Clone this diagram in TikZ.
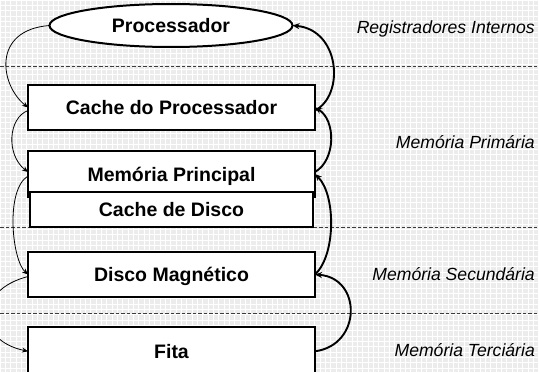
\documentclass[tikz,border=0pt]{standalone}
\usepackage{fontspec}
\setmainfont{Liberation Sans}
\usetikzlibrary{shapes.geometric,arrows.meta}
\definecolor{bggray}{RGB}{236,236,236}
\definecolor{dashgray}{RGB}{60,60,60}
\tikzset{
  gridline/.style={white,line width=0.8pt},
  level/.style={dashgray,line width=0.9pt,dash pattern=on 3.5pt off 2pt},
  box/.style={draw=black,fill=white,line width=2pt,rectangle,inner sep=0pt,outer sep=0pt,
    font=\fontsize{19.5}{22}\selectfont\bfseries,text height=14pt,text depth=0pt},
  oval/.style={draw=black,fill=white,line width=2pt,ellipse,inner sep=0pt,outer sep=0pt,
    minimum width=243pt,minimum height=43pt,
    font=\fontsize{19.5}{22}\selectfont\bfseries,text height=14pt,text depth=0pt},
  tag/.style={anchor=base east,inner sep=0pt,font=\fontsize{17.6}{20}\selectfont\itshape},
  down/.style={line width=0.8pt,-{Stealth[length=6pt,width=5pt]}},
  up/.style={line width=1.9pt,-{Stealth[length=7pt,width=6pt]}}
}
\begin{document}
\begin{tikzpicture}[x=1pt,y=-1pt]
\clip (0,0) rectangle (539,372);
\fill[bggray] (0,0) rectangle (539,372);
\foreach \i in {0,...,101} \draw[gridline] ({\i*16/3},0) -- ({\i*16/3},372);
\foreach \j in {0,...,70} \draw[gridline] (0,{\j*16/3}) -- (539,{\j*16/3});
% level separators
\draw[level] (0,66) -- (539,66);
\draw[level] (0,227.5) -- (539,227.5);
\draw[level] (0,313) -- (539,313);
% nodes
\node[oval] (proc) at (171,25.5) {Processador};
\node[box,minimum width=287pt,minimum height=45pt] (cproc) at (171.5,107.5) {Cache do Processador};
\node[box,minimum width=287pt,minimum height=46pt] (mp) at (171.5,174) {Memória Principal};
\node[box,minimum width=283pt,minimum height=35pt] (cd) at (171.5,209.5) {Cache de Disco};
\node[box,minimum width=287pt,minimum height=45pt] (dm) at (171.5,274.5) {Disco Magnético};
\node[box,minimum width=287pt,minimum height=48.6pt] (fita) at (171.5,351.3) {Fita};
% level labels
\node[tag] (t1) at (535,33) {Registradores Internos};
\node[tag] (t2) at (535,148.3) {Memória Primária};
\node[tag] (t3) at (535,280) {Memória Secundária};
\node[tag] (t4) at (535,356.7) {Memória Terciária};
% left (downward) arrows
\draw[down] (proc.west) .. controls +(-58,4.5) and +(-28,-22.5) .. (cproc.west);
\draw[down] ([yshift=-3pt]cproc.west) .. controls +(-20,7.5) and +(-22,-17) .. ([yshift=2pt]mp.west);
\draw[down] ([yshift=-2pt]mp.west) .. controls +(-23,14) and +(-16,-14.5) .. (dm.west);
\draw[down] ([yshift=-2pt]dm.west) .. controls +(-53,13.5) and +(-53,-11.3) .. (fita.west);
% right (upward) arrows
\draw[up] ([yshift=-3pt]cproc.east) .. controls +(30,-15.5) and +(47.5,4.5) .. (proc.east);
\draw[up] ([yshift=2pt]mp.east) .. controls +(21,-12) and +(21,12.5) .. (cproc.east);
\draw[up] (dm.east) .. controls +(21,-19.5) and +(21,21) .. (mp.east);
\draw[up] (fita.east) .. controls +(47,-6.3) and +(47,3.5) .. (dm.east);
\end{tikzpicture}
\end{document}
